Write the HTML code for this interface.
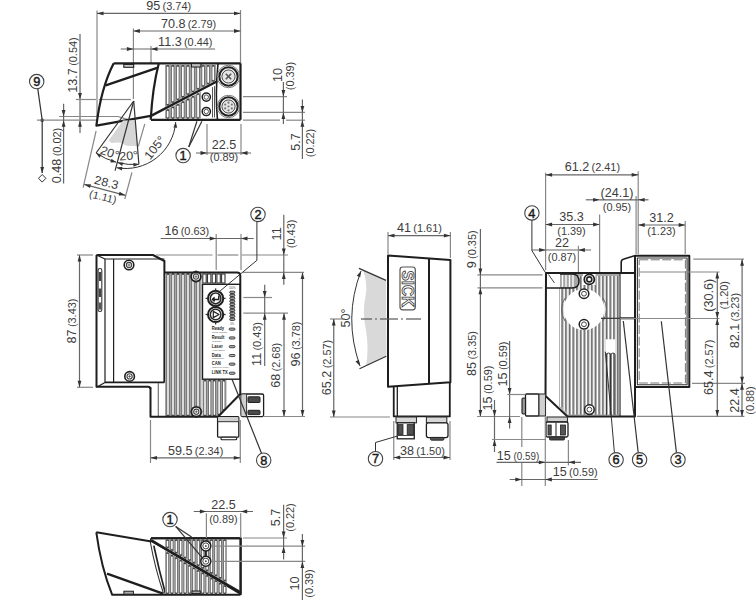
<!DOCTYPE html><html><head><meta charset="utf-8"><style>html,body{margin:0;padding:0;background:#fff;}svg{display:block;}</style></head><body>
<svg width="756" height="600" viewBox="0 0 756 600">
<rect width="756" height="600" fill="#fff"/>
<line x1="97" y1="10.5" x2="97" y2="116" stroke="#888" stroke-width="1.2" />
<line x1="240.5" y1="10" x2="240.5" y2="63" stroke="#888" stroke-width="1.2" />
<line x1="97" y1="13.4" x2="240.5" y2="13.4" stroke="#666" stroke-width="1.2" />
<polygon points="97.00,13.40 103.50,11.50 103.50,15.30" fill="#333"/>
<polygon points="240.50,13.40 234.00,15.30 234.00,11.50" fill="#333"/>
<text transform="translate(146.3 10.3) scale(1.05 1)" text-anchor="start" fill="#3c3c3c" font-family="Liberation Sans"><tspan font-size="12">95</tspan><tspan font-size="10.4" dx="2.2">(3.74)</tspan></text>
<line x1="133.4" y1="28.5" x2="133.4" y2="63" stroke="#888" stroke-width="1.2" />
<line x1="133.4" y1="31" x2="240.5" y2="31" stroke="#666" stroke-width="1.2" />
<polygon points="133.40,31.00 139.90,29.10 139.90,32.90" fill="#333"/>
<polygon points="240.50,31.00 234.00,32.90 234.00,29.10" fill="#333"/>
<text transform="translate(160.9 27.5) scale(1.05 1)" text-anchor="start" fill="#3c3c3c" font-family="Liberation Sans"><tspan font-size="12">70.8</tspan><tspan font-size="10.4" dx="2.2">(2.79)</tspan></text>
<line x1="151" y1="46" x2="151" y2="63" stroke="#888" stroke-width="1.2" />
<line x1="120.7" y1="49" x2="215" y2="49" stroke="#666" stroke-width="1.2" />
<polygon points="133.40,49.00 126.90,50.90 126.90,47.10" fill="#333"/>
<polygon points="151.00,49.00 157.50,47.10 157.50,50.90" fill="#333"/>
<text transform="translate(158.1 45.5) scale(1.05 1)" text-anchor="start" fill="#3c3c3c" font-family="Liberation Sans"><tspan font-size="12">11.3</tspan><tspan font-size="10.4" dx="2.2">(0.44)</tspan></text>
<line x1="133.4" y1="63" x2="133.4" y2="99" stroke="#888" stroke-width="1.2" />
<line x1="80" y1="34" x2="80" y2="133" stroke="#666" stroke-width="1.2" />
<polygon points="80.00,99.50 78.10,93.00 81.90,93.00" fill="#333"/>
<polygon points="80.00,120.20 81.90,126.70 78.10,126.70" fill="#333"/>
<text transform="translate(77 65) rotate(-90) scale(1.05 1)" text-anchor="middle" fill="#3c3c3c" font-family="Liberation Sans"><tspan font-size="12">13.7</tspan><tspan font-size="10.4" dx="2.2">(0.54)</tspan></text>
<line x1="76" y1="99.5" x2="96" y2="99.5" stroke="#888" stroke-width="1.2" />
<line x1="99" y1="99.5" x2="131" y2="99.5" stroke="#888" stroke-width="1.2" />
<circle cx="36.7" cy="81.6" r="7.2" stroke="#444" stroke-width="1.1" fill="white" />
<text transform="translate(36.7 86.19999999999999) scale(1 1)" font-size="12.8" text-anchor="middle" fill="#1a1a1a" font-weight="normal" font-family="Liberation Sans" stroke="#1a1a1a" stroke-width="0.45">9</text>
<line x1="37.8" y1="88.8" x2="42.2" y2="120.2" stroke="#333" stroke-width="1.2" />
<circle cx="42.2" cy="120.2" r="1.8" stroke="#666" stroke-width="0" fill="#222" />
<line x1="37" y1="120.2" x2="97" y2="120.2" stroke="#888" stroke-width="1.2" />
<line x1="59" y1="116.5" x2="118" y2="116.5" stroke="#888" stroke-width="1.2" />
<line x1="118" y1="116.5" x2="128" y2="119.6" stroke="#888" stroke-width="1.2" />
<line x1="42.2" y1="120.2" x2="42.2" y2="173" stroke="#333" stroke-width="1.2" />
<polygon points="42.20,173.50 40.30,167.00 44.10,167.00" fill="#333"/>
<path d="M42.2,174.5 L45.9,178.3 L42.2,182.1 L38.5,178.3 Z" stroke="#333" stroke-width="1" fill="white" stroke-linejoin="round" />
<line x1="63.6" y1="103.7" x2="63.6" y2="183.4" stroke="#666" stroke-width="1.2" />
<polygon points="63.60,116.50 61.70,110.00 65.50,110.00" fill="#333"/>
<polygon points="63.60,120.20 65.50,126.70 61.70,126.70" fill="#333"/>
<text transform="translate(60.7 155.5) rotate(-90) scale(1.05 1)" text-anchor="middle" fill="#3c3c3c" font-family="Liberation Sans"><tspan font-size="12">0.48</tspan><tspan font-size="10.4" dx="2.2">(0.02)</tspan></text>
<path d="M113.7,63.3 Q101,88 96.4,125.7 L150.7,115.8" stroke="#1e1e1e" stroke-width="2.2" fill="none" stroke-linejoin="round" />
<line x1="105.75" y1="85.4" x2="157.1" y2="67.9" stroke="#1e1e1e" stroke-width="2.2" />
<line x1="113.7" y1="63.3" x2="240.5" y2="63.3" stroke="#1e1e1e" stroke-width="2.2" />
<line x1="151" y1="119.8" x2="240.5" y2="119.8" stroke="#1e1e1e" stroke-width="2.2" />
<line x1="240.5" y1="63.3" x2="240.5" y2="119.8" stroke="#1e1e1e" stroke-width="2.2" />
<path d="M158.8,63.3 Q152.5,88 150.7,119.8" stroke="#1e1e1e" stroke-width="2.2" fill="none" stroke-linejoin="round" />
<path d="M218,63.3 Q215,95 217.5,119.8" stroke="#1e1e1e" stroke-width="1.6" fill="none" stroke-linejoin="round" />
<rect x="123.8" y="64.4" width="9.9" height="2.9" rx="0" stroke="#1e1e1e" stroke-width="1.1" fill="#ccc" />
<rect x="191.5" y="63.6" width="9.4" height="3.4" rx="0" stroke="#1e1e1e" stroke-width="1" fill="#bbb" />
<polygon points="165,65 216,65 216,80.32900302114803 165,107.06163141993957" stroke="none" stroke-width="0" fill="#a2a2a2" stroke-linejoin="round" />
<line x1="167.70" y1="66.50" x2="167.70" y2="104.15" stroke="#444" stroke-width="2.9" stroke-linecap="round"/>
<line x1="167.70" y1="67.50" x2="167.70" y2="103.15" stroke="#fff" stroke-width="1.8" stroke-linecap="round"/>
<line x1="172.76" y1="66.50" x2="172.76" y2="101.49" stroke="#444" stroke-width="2.9" stroke-linecap="round"/>
<line x1="172.76" y1="67.50" x2="172.76" y2="100.49" stroke="#fff" stroke-width="1.8" stroke-linecap="round"/>
<line x1="177.82" y1="66.50" x2="177.82" y2="98.84" stroke="#444" stroke-width="2.9" stroke-linecap="round"/>
<line x1="177.82" y1="67.50" x2="177.82" y2="97.84" stroke="#fff" stroke-width="1.8" stroke-linecap="round"/>
<line x1="182.88" y1="66.50" x2="182.88" y2="96.19" stroke="#444" stroke-width="2.9" stroke-linecap="round"/>
<line x1="182.88" y1="67.50" x2="182.88" y2="95.19" stroke="#fff" stroke-width="1.8" stroke-linecap="round"/>
<line x1="187.94" y1="66.50" x2="187.94" y2="93.54" stroke="#444" stroke-width="2.9" stroke-linecap="round"/>
<line x1="187.94" y1="67.50" x2="187.94" y2="92.54" stroke="#fff" stroke-width="1.8" stroke-linecap="round"/>
<line x1="193.00" y1="66.50" x2="193.00" y2="90.88" stroke="#444" stroke-width="2.9" stroke-linecap="round"/>
<line x1="193.00" y1="67.50" x2="193.00" y2="89.88" stroke="#fff" stroke-width="1.8" stroke-linecap="round"/>
<line x1="198.06" y1="66.50" x2="198.06" y2="88.23" stroke="#444" stroke-width="2.9" stroke-linecap="round"/>
<line x1="198.06" y1="67.50" x2="198.06" y2="87.23" stroke="#fff" stroke-width="1.8" stroke-linecap="round"/>
<line x1="203.12" y1="66.50" x2="203.12" y2="85.58" stroke="#444" stroke-width="2.9" stroke-linecap="round"/>
<line x1="203.12" y1="67.50" x2="203.12" y2="84.58" stroke="#fff" stroke-width="1.8" stroke-linecap="round"/>
<line x1="208.18" y1="66.50" x2="208.18" y2="82.93" stroke="#444" stroke-width="2.9" stroke-linecap="round"/>
<line x1="208.18" y1="67.50" x2="208.18" y2="81.93" stroke="#fff" stroke-width="1.8" stroke-linecap="round"/>
<line x1="213.24" y1="66.50" x2="213.24" y2="80.28" stroke="#444" stroke-width="2.9" stroke-linecap="round"/>
<line x1="213.24" y1="67.50" x2="213.24" y2="79.28" stroke="#fff" stroke-width="1.8" stroke-linecap="round"/>
<polygon points="165,110.56163141993957 201,91.69154078549849 201,118.5 165,118.5" stroke="none" stroke-width="0" fill="#a2a2a2" stroke-linejoin="round" />
<line x1="167.70" y1="110.65" x2="167.70" y2="117.50" stroke="#444" stroke-width="2.9" stroke-linecap="round"/>
<line x1="167.70" y1="111.65" x2="167.70" y2="116.50" stroke="#fff" stroke-width="1.8" stroke-linecap="round"/>
<line x1="172.76" y1="107.99" x2="172.76" y2="117.50" stroke="#444" stroke-width="2.9" stroke-linecap="round"/>
<line x1="172.76" y1="108.99" x2="172.76" y2="116.50" stroke="#fff" stroke-width="1.8" stroke-linecap="round"/>
<line x1="177.82" y1="105.34" x2="177.82" y2="117.50" stroke="#444" stroke-width="2.9" stroke-linecap="round"/>
<line x1="177.82" y1="106.34" x2="177.82" y2="116.50" stroke="#fff" stroke-width="1.8" stroke-linecap="round"/>
<line x1="182.88" y1="102.69" x2="182.88" y2="117.50" stroke="#444" stroke-width="2.9" stroke-linecap="round"/>
<line x1="182.88" y1="103.69" x2="182.88" y2="116.50" stroke="#fff" stroke-width="1.8" stroke-linecap="round"/>
<line x1="187.94" y1="100.04" x2="187.94" y2="117.50" stroke="#444" stroke-width="2.9" stroke-linecap="round"/>
<line x1="187.94" y1="101.04" x2="187.94" y2="116.50" stroke="#fff" stroke-width="1.8" stroke-linecap="round"/>
<line x1="193.00" y1="97.38" x2="193.00" y2="117.50" stroke="#444" stroke-width="2.9" stroke-linecap="round"/>
<line x1="193.00" y1="98.38" x2="193.00" y2="116.50" stroke="#fff" stroke-width="1.8" stroke-linecap="round"/>
<line x1="198.06" y1="94.73" x2="198.06" y2="117.50" stroke="#444" stroke-width="2.9" stroke-linecap="round"/>
<line x1="198.06" y1="95.73" x2="198.06" y2="116.50" stroke="#fff" stroke-width="1.8" stroke-linecap="round"/>
<line x1="212.5" y1="87.16359516616313" x2="212.5" y2="117.5" stroke="#555" stroke-width="1" />
<line x1="214.5" y1="86.11525679758307" x2="214.5" y2="117.5" stroke="#555" stroke-width="1" />
<rect x="191.5" y="63.6" width="9.4" height="3.4" rx="0" stroke="#1e1e1e" stroke-width="1" fill="#bbb" />
<line x1="151" y1="115.9" x2="217.2" y2="81.2" stroke="#1e1e1e" stroke-width="2.4" />
<circle cx="206.3" cy="97.1" r="5.2" stroke="#666" stroke-width="0" fill="white" />
<circle cx="206.3" cy="97.1" r="4.1" stroke="#1e1e1e" stroke-width="1.5" fill="white" />
<circle cx="206.3" cy="97.1" r="2.2" stroke="#444" stroke-width="0.9" fill="none" />
<circle cx="206.3" cy="111.5" r="5.2" stroke="#666" stroke-width="0" fill="white" />
<circle cx="206.3" cy="111.5" r="4.1" stroke="#1e1e1e" stroke-width="1.5" fill="white" />
<circle cx="206.3" cy="111.5" r="2.2" stroke="#444" stroke-width="0.9" fill="none" />
<circle cx="228.5" cy="76.5" r="11.2" stroke="#555" stroke-width="0.8" fill="white" />
<circle cx="228.5" cy="76.5" r="9.2" stroke="#222" stroke-width="2.1" fill="none" />
<circle cx="228.5" cy="76.5" r="6.6" stroke="#444" stroke-width="1" fill="#e6e6e6" />
<circle cx="228.5" cy="106.5" r="11.2" stroke="#555" stroke-width="0.8" fill="white" />
<circle cx="228.5" cy="106.5" r="9.2" stroke="#222" stroke-width="2.1" fill="none" />
<circle cx="228.5" cy="106.5" r="6.6" stroke="#444" stroke-width="1" fill="#e6e6e6" />
<line x1="225.8" y1="73.8" x2="231.2" y2="79.2" stroke="#555" stroke-width="1.6" />
<line x1="231.2" y1="73.8" x2="225.8" y2="79.2" stroke="#555" stroke-width="1.6" />
<circle cx="228.5" cy="102.7" r="1.1" stroke="#666" stroke-width="0" fill="#777" />
<circle cx="231.8" cy="104.6" r="1.1" stroke="#666" stroke-width="0" fill="#777" />
<circle cx="231.8" cy="108.4" r="1.1" stroke="#666" stroke-width="0" fill="#777" />
<circle cx="228.5" cy="110.3" r="1.1" stroke="#666" stroke-width="0" fill="#777" />
<circle cx="225.2" cy="108.4" r="1.1" stroke="#666" stroke-width="0" fill="#777" />
<circle cx="225.2" cy="104.6" r="1.1" stroke="#666" stroke-width="0" fill="#777" />
<circle cx="228.5" cy="106.5" r="1.1" stroke="#666" stroke-width="0" fill="#777" />
<path d="M123,120.5 L109,140 Q110,143.5 114,142.8 Q119,142 122.5,143.5 Q127,147 132,145.8 L137.6,146.3 L135.4,120.2 Z" fill="#d6d6d6" stroke="none"/>
<line x1="133.7" y1="101" x2="96.1" y2="153" stroke="#333" stroke-width="1.2" />
<line x1="133.7" y1="101" x2="115.1" y2="170.6" stroke="#333" stroke-width="1.2" />
<line x1="133.7" y1="101" x2="138.9" y2="164.2" stroke="#333" stroke-width="1.2" />
<line x1="144.8" y1="123.9" x2="138.2" y2="146.5" stroke="#888" stroke-width="1.2" />
<path d="M96.1,153 A64 64 0 0 0 116.2,162.2" stroke="#333" stroke-width="1" fill="none" stroke-linejoin="round" />
<polygon points="96.10,153.00 101.67,154.70 99.43,157.77" fill="#333"/>
<polygon points="116.20,162.20 110.38,162.41 111.50,158.77" fill="#333"/>
<path d="M117.5,162.6 A64 64 0 0 0 138.9,164.3" stroke="#333" stroke-width="1" fill="none" stroke-linejoin="round" />
<polygon points="117.50,162.60 123.32,162.39 122.20,166.03" fill="#333"/>
<polygon points="138.90,164.30 133.59,166.67 133.26,162.89" fill="#333"/>
<text transform="translate(99.5 153.5) rotate(19) scale(1.05 1)" font-size="12" text-anchor="start" fill="#3c3c3c" font-weight="normal" font-family="Liberation Sans" >20°</text>
<text transform="translate(119.4 160.6) rotate(-4) scale(1.05 1)" font-size="12" text-anchor="start" fill="#3c3c3c" font-weight="normal" font-family="Liberation Sans" >20°</text>
<path d="M116.7,167.7 A50.2 50.2 0 0 0 175.7,122.1" stroke="#333" stroke-width="1" fill="none" stroke-linejoin="round" />
<polygon points="116.70,167.70 122.45,166.78 121.79,170.53" fill="#333"/>
<polygon points="175.70,122.10 177.21,127.72 173.42,127.45" fill="#333"/>
<text transform="translate(150 160.5) rotate(-52) scale(1.05 1)" font-size="12" text-anchor="start" fill="#3c3c3c" font-weight="normal" font-family="Liberation Sans" >105°</text>
<line x1="96.1" y1="131" x2="83.1" y2="187.7" stroke="#888" stroke-width="1.2" />
<line x1="131.9" y1="172.5" x2="124.8" y2="199" stroke="#888" stroke-width="1.2" />
<line x1="84.2" y1="184.4" x2="125.4" y2="195.3" stroke="#666" stroke-width="1.2" />
<polygon points="84.20,184.40 90.97,184.22 90.00,187.90" fill="#333"/>
<polygon points="125.40,195.30 118.63,195.48 119.60,191.80" fill="#333"/>
<text transform="translate(93.6 183.5) rotate(14) scale(1.05 1)" font-size="12" text-anchor="start" fill="#3c3c3c" font-weight="normal" font-family="Liberation Sans" >28.3</text>
<text transform="translate(88.5 197) rotate(14) scale(1.05 1)" font-size="10.5" text-anchor="start" fill="#3c3c3c" font-weight="normal" font-family="Liberation Sans" >(1.11)</text>
<circle cx="183.1" cy="155.6" r="7.2" stroke="#444" stroke-width="1.1" fill="white" />
<text transform="translate(183.1 160.2) scale(1 1)" font-size="12.8" text-anchor="middle" fill="#1a1a1a" font-weight="normal" font-family="Liberation Sans" stroke="#1a1a1a" stroke-width="0.45">1</text>
<line x1="188.75" y1="146.9" x2="196.9" y2="121.2" stroke="#333" stroke-width="1.2" />
<line x1="188.75" y1="146.9" x2="201.9" y2="121.2" stroke="#333" stroke-width="1.2" />
<line x1="243" y1="96.6" x2="287" y2="96.6" stroke="#888" stroke-width="1.2" />
<line x1="243" y1="112.4" x2="305" y2="112.4" stroke="#888" stroke-width="1.2" />
<line x1="243" y1="120.2" x2="280" y2="120.2" stroke="#888" stroke-width="1.2" />
<line x1="286" y1="120.2" x2="305" y2="120.2" stroke="#888" stroke-width="1.2" />
<line x1="283.4" y1="82" x2="283.4" y2="124" stroke="#666" stroke-width="1.2" />
<polygon points="283.40,96.60 281.50,90.10 285.30,90.10" fill="#333"/>
<polygon points="283.40,112.40 285.30,118.90 281.50,118.90" fill="#333"/>
<text transform="translate(281.5 75) rotate(-90) scale(1.05 1)" text-anchor="middle" fill="#3c3c3c" font-family="Liberation Sans"><tspan font-size="12">10</tspan></text>
<text transform="translate(293.8 76) rotate(-90) scale(1.05 1)" text-anchor="middle" fill="#3c3c3c" font-family="Liberation Sans"><tspan font-size="10.4">(0.39)</tspan></text>
<line x1="302.4" y1="99.6" x2="302.4" y2="159" stroke="#666" stroke-width="1.2" />
<polygon points="302.40,112.40 300.50,105.90 304.30,105.90" fill="#333"/>
<polygon points="302.40,120.20 304.30,126.70 300.50,126.70" fill="#333"/>
<text transform="translate(300.2 142) rotate(-90) scale(1.05 1)" text-anchor="middle" fill="#3c3c3c" font-family="Liberation Sans"><tspan font-size="12">5.7</tspan></text>
<text transform="translate(313.8 143) rotate(-90) scale(1.05 1)" text-anchor="middle" fill="#3c3c3c" font-family="Liberation Sans"><tspan font-size="10.4">(0.22)</tspan></text>
<line x1="207" y1="124" x2="207" y2="155" stroke="#888" stroke-width="1.2" />
<line x1="241" y1="124" x2="241" y2="155" stroke="#888" stroke-width="1.2" />
<line x1="196" y1="153" x2="251" y2="153" stroke="#666" stroke-width="1.2" />
<polygon points="207.00,153.00 200.50,154.90 200.50,151.10" fill="#333"/>
<polygon points="241.00,153.00 247.50,151.10 247.50,154.90" fill="#333"/>
<text transform="translate(224 149.4) scale(1.05 1)" text-anchor="middle" fill="#3c3c3c" font-family="Liberation Sans"><tspan font-size="12">22.5</tspan></text>
<text transform="translate(224 161) scale(1.05 1)" text-anchor="middle" fill="#3c3c3c" font-family="Liberation Sans"><tspan font-size="10.4">(0.89)</tspan></text>
<path d="M96.5,255 L153,255 L164.4,261 L164.4,382.4" stroke="#1e1e1e" stroke-width="2" fill="none" stroke-linejoin="round" />
<path d="M96.5,255 L96.5,386.8 L148,386.8 Q150.3,386.8 150.3,389" stroke="#1e1e1e" stroke-width="2" fill="none" stroke-linejoin="round" />
<line x1="96.5" y1="255" x2="105" y2="259" stroke="#1e1e1e" stroke-width="1.2" />
<line x1="96.5" y1="387.3" x2="105" y2="382.4" stroke="#1e1e1e" stroke-width="1.2" />
<line x1="105" y1="259" x2="164.4" y2="259" stroke="#1e1e1e" stroke-width="1.2" />
<line x1="105" y1="259" x2="105" y2="382.4" stroke="#1e1e1e" stroke-width="1.2" />
<line x1="113.6" y1="259" x2="113.6" y2="382.4" stroke="#1e1e1e" stroke-width="1.2" />
<line x1="105" y1="382.4" x2="164.4" y2="382.4" stroke="#1e1e1e" stroke-width="1.8" />
<line x1="158.3" y1="383" x2="158.3" y2="416.5" stroke="#666" stroke-width="1.1" />
<rect x="98.1" y="268.5" width="3.7" height="43" rx="1.8" stroke="#333" stroke-width="1.1" fill="#fff" />
<rect x="98.8" y="272" width="2.3" height="9" rx="0" stroke="#666" stroke-width="0" fill="#444" />
<rect x="98.8" y="288.5" width="2.3" height="8.5" rx="0" stroke="#666" stroke-width="0" fill="#444" />
<rect x="98.8" y="302.5" width="2.3" height="7" rx="0" stroke="#666" stroke-width="0" fill="#555" />
<circle cx="129" cy="265" r="4.8" stroke="#1e1e1e" stroke-width="1.6" fill="white" />
<circle cx="129" cy="265" r="2.6" stroke="#444" stroke-width="1.1" fill="none" />
<line x1="127.5" y1="265" x2="130.5" y2="265" stroke="#444" stroke-width="0.7" />
<line x1="129" y1="263.5" x2="129" y2="266.5" stroke="#444" stroke-width="0.7" />
<circle cx="129.6" cy="376.4" r="4.8" stroke="#1e1e1e" stroke-width="1.6" fill="white" />
<circle cx="129.6" cy="376.4" r="2.6" stroke="#444" stroke-width="1.1" fill="none" />
<line x1="128.1" y1="376.4" x2="131.1" y2="376.4" stroke="#444" stroke-width="0.7" />
<line x1="129.6" y1="374.9" x2="129.6" y2="377.9" stroke="#444" stroke-width="0.7" />
<polygon points="165,273.5 201.5,273.5 201.5,416 165,416" stroke="none" stroke-width="0" fill="#a4a4a4" stroke-linejoin="round" />
<line x1="168.00" y1="274.50" x2="168.00" y2="415.30" stroke="#4a4a4a" stroke-width="2.9" stroke-linecap="round"/>
<line x1="168.00" y1="275.50" x2="168.00" y2="414.30" stroke="#fff" stroke-width="1.6" stroke-linecap="round"/>
<line x1="173.00" y1="274.50" x2="173.00" y2="415.30" stroke="#4a4a4a" stroke-width="2.9" stroke-linecap="round"/>
<line x1="173.00" y1="275.50" x2="173.00" y2="414.30" stroke="#fff" stroke-width="1.6" stroke-linecap="round"/>
<line x1="178.00" y1="274.50" x2="178.00" y2="415.30" stroke="#4a4a4a" stroke-width="2.9" stroke-linecap="round"/>
<line x1="178.00" y1="275.50" x2="178.00" y2="414.30" stroke="#fff" stroke-width="1.6" stroke-linecap="round"/>
<line x1="183.00" y1="274.50" x2="183.00" y2="415.30" stroke="#4a4a4a" stroke-width="2.9" stroke-linecap="round"/>
<line x1="183.00" y1="275.50" x2="183.00" y2="414.30" stroke="#fff" stroke-width="1.6" stroke-linecap="round"/>
<line x1="188.00" y1="274.50" x2="188.00" y2="415.30" stroke="#4a4a4a" stroke-width="2.9" stroke-linecap="round"/>
<line x1="188.00" y1="275.50" x2="188.00" y2="414.30" stroke="#fff" stroke-width="1.6" stroke-linecap="round"/>
<line x1="193.00" y1="274.50" x2="193.00" y2="415.30" stroke="#4a4a4a" stroke-width="2.9" stroke-linecap="round"/>
<line x1="193.00" y1="275.50" x2="193.00" y2="414.30" stroke="#fff" stroke-width="1.6" stroke-linecap="round"/>
<line x1="198.00" y1="274.50" x2="198.00" y2="415.30" stroke="#4a4a4a" stroke-width="2.9" stroke-linecap="round"/>
<line x1="198.00" y1="275.50" x2="198.00" y2="414.30" stroke="#fff" stroke-width="1.6" stroke-linecap="round"/>
<polygon points="202.5,380 226.5,380 226.5,408 218.5,416 202.5,416" stroke="none" stroke-width="0" fill="#a4a4a4" stroke-linejoin="round" />
<line x1="205.00" y1="381.00" x2="205.00" y2="415.30" stroke="#4a4a4a" stroke-width="2.9" stroke-linecap="round"/>
<line x1="205.00" y1="382.00" x2="205.00" y2="414.30" stroke="#fff" stroke-width="1.6" stroke-linecap="round"/>
<line x1="209.70" y1="381.00" x2="209.70" y2="415.30" stroke="#4a4a4a" stroke-width="2.9" stroke-linecap="round"/>
<line x1="209.70" y1="382.00" x2="209.70" y2="414.30" stroke="#fff" stroke-width="1.6" stroke-linecap="round"/>
<line x1="214.40" y1="381.00" x2="214.40" y2="415.30" stroke="#4a4a4a" stroke-width="2.9" stroke-linecap="round"/>
<line x1="214.40" y1="382.00" x2="214.40" y2="414.30" stroke="#fff" stroke-width="1.6" stroke-linecap="round"/>
<line x1="219.10" y1="381.00" x2="219.10" y2="414.20" stroke="#4a4a4a" stroke-width="2.9" stroke-linecap="round"/>
<line x1="219.10" y1="382.00" x2="219.10" y2="413.20" stroke="#fff" stroke-width="1.6" stroke-linecap="round"/>
<line x1="223.80" y1="381.00" x2="223.80" y2="409.50" stroke="#4a4a4a" stroke-width="2.9" stroke-linecap="round"/>
<line x1="223.80" y1="382.00" x2="223.80" y2="408.50" stroke="#fff" stroke-width="1.6" stroke-linecap="round"/>
<rect x="202.8" y="274" width="3.4" height="9" rx="0" stroke="#333" stroke-width="1.1" fill="white" />
<rect x="207.5" y="274" width="3.4" height="9" rx="0" stroke="#333" stroke-width="1.1" fill="white" />
<rect x="212.20000000000002" y="274" width="3.4" height="9" rx="0" stroke="#333" stroke-width="1.1" fill="white" />
<rect x="216.9" y="274" width="3.4" height="9" rx="0" stroke="#333" stroke-width="1.1" fill="white" />
<rect x="221.60000000000002" y="274" width="3.4" height="9" rx="0" stroke="#333" stroke-width="1.1" fill="white" />
<rect x="202.5" y="284.3" width="37.8" height="94.9" rx="0" stroke="#1e1e1e" stroke-width="1.4" fill="white" />
<circle cx="196" cy="276.6" r="4.9" stroke="#1e1e1e" stroke-width="1.8" fill="white" />
<circle cx="196" cy="276.6" r="2.6" stroke="#444" stroke-width="1.1" fill="none" />
<line x1="189.7" y1="276.6" x2="191.4" y2="276.6" stroke="#444" stroke-width="1" />
<line x1="200.6" y1="276.6" x2="202.3" y2="276.6" stroke="#444" stroke-width="1" />
<line x1="196" y1="270.3" x2="196" y2="272.0" stroke="#444" stroke-width="1" />
<line x1="196" y1="281.20000000000005" x2="196" y2="282.90000000000003" stroke="#444" stroke-width="1" />
<line x1="194.6" y1="276.6" x2="197.4" y2="276.6" stroke="#444" stroke-width="0.7" />
<line x1="196" y1="275.20000000000005" x2="196" y2="278.0" stroke="#444" stroke-width="0.7" />
<circle cx="196.3" cy="411.7" r="4.9" stroke="#1e1e1e" stroke-width="1.8" fill="white" />
<circle cx="196.3" cy="411.7" r="2.6" stroke="#444" stroke-width="1.1" fill="none" />
<line x1="190.0" y1="411.7" x2="191.70000000000002" y2="411.7" stroke="#444" stroke-width="1" />
<line x1="200.9" y1="411.7" x2="202.60000000000002" y2="411.7" stroke="#444" stroke-width="1" />
<line x1="196.3" y1="405.4" x2="196.3" y2="407.09999999999997" stroke="#444" stroke-width="1" />
<line x1="196.3" y1="416.3" x2="196.3" y2="418.0" stroke="#444" stroke-width="1" />
<line x1="194.9" y1="411.7" x2="197.70000000000002" y2="411.7" stroke="#444" stroke-width="0.7" />
<line x1="196.3" y1="410.3" x2="196.3" y2="413.09999999999997" stroke="#444" stroke-width="0.7" />
<circle cx="215.6" cy="298.4" r="7.6" stroke="#1e1e1e" stroke-width="2.0" fill="white" />
<circle cx="215.6" cy="298.4" r="5.3" stroke="#2a2a2a" stroke-width="1.5" fill="none" />
<line x1="205.6" y1="298.4" x2="207.4" y2="298.4" stroke="#333" stroke-width="1.3" />
<line x1="223.8" y1="298.4" x2="225.6" y2="298.4" stroke="#333" stroke-width="1.3" />
<line x1="215.6" y1="288.4" x2="215.6" y2="290.2" stroke="#333" stroke-width="1.3" />
<line x1="215.6" y1="306.59999999999997" x2="215.6" y2="308.4" stroke="#333" stroke-width="1.3" />
<circle cx="215.6" cy="314.5" r="7.6" stroke="#1e1e1e" stroke-width="2.0" fill="white" />
<circle cx="215.6" cy="314.5" r="5.3" stroke="#2a2a2a" stroke-width="1.5" fill="none" />
<line x1="205.6" y1="314.5" x2="207.4" y2="314.5" stroke="#333" stroke-width="1.3" />
<line x1="223.8" y1="314.5" x2="225.6" y2="314.5" stroke="#333" stroke-width="1.3" />
<line x1="215.6" y1="304.5" x2="215.6" y2="306.3" stroke="#333" stroke-width="1.3" />
<line x1="215.6" y1="322.7" x2="215.6" y2="324.5" stroke="#333" stroke-width="1.3" />
<path d="M218.8,295.6 L218.8,299.4 L212.5,299.4 M214.6,297.4 L212.5,299.4 L214.6,301.4" stroke="#222" stroke-width="1.5" fill="none" stroke-linejoin="round" />
<path d="M213.3,311.4 L219,314.5 L213.3,317.6 Z" stroke="#222" stroke-width="1.2" fill="none" stroke-linejoin="round" />
<rect x="229.8" y="291.2" width="5" height="2.2" rx="1" stroke="#222" stroke-width="0.9" fill="#aaa" />
<rect x="229.8" y="294.2" width="5" height="2.2" rx="1" stroke="#222" stroke-width="0.9" fill="#aaa" />
<rect x="229.8" y="297.2" width="5" height="2.2" rx="1" stroke="#222" stroke-width="0.9" fill="#aaa" />
<rect x="229.8" y="300.2" width="5" height="2.2" rx="1" stroke="#222" stroke-width="0.9" fill="#aaa" />
<rect x="229.8" y="303.2" width="5" height="2.2" rx="1" stroke="#222" stroke-width="0.9" fill="#aaa" />
<rect x="229.8" y="306.2" width="5" height="2.2" rx="1" stroke="#222" stroke-width="0.9" fill="#aaa" />
<rect x="229.8" y="309.2" width="5" height="2.2" rx="1" stroke="#222" stroke-width="0.9" fill="#aaa" />
<rect x="229.8" y="312.2" width="5" height="2.2" rx="1" stroke="#222" stroke-width="0.9" fill="#aaa" />
<rect x="229.8" y="315.2" width="5" height="2.2" rx="1" stroke="#222" stroke-width="0.9" fill="#aaa" />
<rect x="229.8" y="318.2" width="5" height="2.2" rx="1" stroke="#222" stroke-width="0.9" fill="#aaa" />
<text transform="translate(232.2 289.3) scale(1 1)" font-size="2.6" text-anchor="middle" fill="#444" font-weight="normal" font-family="Liberation Sans" >100%</text>
<text transform="translate(232.2 324.5) scale(1 1)" font-size="2.6" text-anchor="middle" fill="#444" font-weight="normal" font-family="Liberation Sans" >0%</text>
<text transform="translate(211.8 330.2) scale(0.84 1)" font-size="4.9" text-anchor="start" fill="#1a1a1a" font-weight="bold" font-family="Liberation Sans" >Ready</text>
<text transform="translate(212 333.0) scale(1.1 1)" font-size="2.4" text-anchor="start" fill="#555" font-weight="normal" font-family="Liberation Sans" >Read Trigger</text>
<rect x="229.2" y="328.09999999999997" width="5.8" height="2.1" rx="1" stroke="#333" stroke-width="0.9" fill="#bbb" />
<text transform="translate(211.8 339) scale(0.84 1)" font-size="4.9" text-anchor="start" fill="#1a1a1a" font-weight="bold" font-family="Liberation Sans" >Result</text>
<text transform="translate(212 341.8) scale(1.1 1)" font-size="2.4" text-anchor="start" fill="#555" font-weight="normal" font-family="Liberation Sans" >Transfer</text>
<rect x="229.2" y="336.9" width="5.8" height="2.1" rx="1" stroke="#333" stroke-width="0.9" fill="#bbb" />
<text transform="translate(211.8 347.7) scale(0.84 1)" font-size="4.9" text-anchor="start" fill="#1a1a1a" font-weight="bold" font-family="Liberation Sans" >Laser</text>
<text transform="translate(212 350.5) scale(1.1 1)" font-size="2.4" text-anchor="start" fill="#555" font-weight="normal" font-family="Liberation Sans" >Auto Setup</text>
<rect x="229.2" y="345.59999999999997" width="5.8" height="2.1" rx="1" stroke="#333" stroke-width="0.9" fill="#bbb" />
<text transform="translate(211.8 356.6) scale(0.84 1)" font-size="4.9" text-anchor="start" fill="#1a1a1a" font-weight="bold" font-family="Liberation Sans" >Data</text>
<text transform="translate(212 359.40000000000003) scale(1.1 1)" font-size="2.4" text-anchor="start" fill="#555" font-weight="normal" font-family="Liberation Sans" >Reporting</text>
<rect x="229.2" y="354.5" width="5.8" height="2.1" rx="1" stroke="#333" stroke-width="0.9" fill="#bbb" />
<text transform="translate(211.8 365.2) scale(0.84 1)" font-size="4.9" text-anchor="start" fill="#1a1a1a" font-weight="bold" font-family="Liberation Sans" >CAN</text>
<text transform="translate(212 368.0) scale(1.1 1)" font-size="2.4" text-anchor="start" fill="#555" font-weight="normal" font-family="Liberation Sans" >Can/UW Fault</text>
<rect x="229.2" y="363.09999999999997" width="5.8" height="2.1" rx="1" stroke="#333" stroke-width="0.9" fill="#bbb" />
<text transform="translate(211.8 374.3) scale(0.84 1)" font-size="4.9" text-anchor="start" fill="#1a1a1a" font-weight="bold" font-family="Liberation Sans" >LINK TX</text>
<rect x="229.2" y="372.2" width="5.8" height="2.1" rx="1" stroke="#333" stroke-width="0.9" fill="#bbb" />
<path d="M164.4,272.4 L237,272.4 Q240.3,272.4 240.3,275.7 L240.3,394 L218,416.7 L150.5,416.7 L150.5,387.3" stroke="#1e1e1e" stroke-width="2" fill="none" stroke-linejoin="round" />
<rect x="241" y="394" width="22.6" height="22.6" rx="1.5" stroke="#1e1e1e" stroke-width="1.3" fill="white" />
<rect x="241.5" y="394.5" width="5" height="21.6" rx="0" stroke="#666" stroke-width="0" fill="#cfcfcf" />
<rect x="248" y="396.8" width="12" height="5.7" rx="0.8" stroke="#222" stroke-width="1" fill="#4a4a4a" />
<rect x="248" y="410.3" width="12" height="4.3" rx="0.8" stroke="#222" stroke-width="1" fill="#4a4a4a" />
<line x1="246.6" y1="394" x2="246.6" y2="416.6" stroke="#333" stroke-width="1" />
<rect x="217.6" y="416.7" width="21.2" height="20.5" rx="1" stroke="#1e1e1e" stroke-width="1.3" fill="white" />
<rect x="218.1" y="417.2" width="20.2" height="4.5" rx="0" stroke="#666" stroke-width="0" fill="#cfcfcf" />
<line x1="217.6" y1="421.7" x2="238.8" y2="421.7" stroke="#333" stroke-width="1" />
<rect x="221" y="437.2" width="15.7" height="2.6" rx="1" stroke="#1e1e1e" stroke-width="1.1" fill="white" />
<line x1="77" y1="255" x2="93" y2="255" stroke="#888" stroke-width="1.2" />
<line x1="77" y1="387.3" x2="93" y2="387.3" stroke="#888" stroke-width="1.2" />
<line x1="79.5" y1="255" x2="79.5" y2="387.3" stroke="#666" stroke-width="1.2" />
<polygon points="79.50,255.00 81.40,261.50 77.60,261.50" fill="#333"/>
<polygon points="79.50,387.30 77.60,380.80 81.40,380.80" fill="#333"/>
<text transform="translate(75.8 321) rotate(-90) scale(1.05 1)" text-anchor="middle" fill="#3c3c3c" font-family="Liberation Sans"><tspan font-size="12">87</tspan><tspan font-size="10.4" dx="2.2">(3.43)</tspan></text>
<line x1="216.2" y1="234" x2="216.2" y2="270" stroke="#888" stroke-width="1.2" />
<line x1="241" y1="234" x2="241" y2="270" stroke="#888" stroke-width="1.2" />
<line x1="160.6" y1="238.5" x2="253.7" y2="238.5" stroke="#666" stroke-width="1.2" />
<polygon points="216.20,238.50 209.70,240.40 209.70,236.60" fill="#333"/>
<polygon points="241.00,238.50 247.50,236.60 247.50,240.40" fill="#333"/>
<text transform="translate(164.4 234.5) scale(1.05 1)" text-anchor="start" fill="#3c3c3c" font-family="Liberation Sans"><tspan font-size="12">16</tspan><tspan font-size="10.4" dx="2.2">(0.63)</tspan></text>
<line x1="156" y1="255" x2="212.5" y2="255" stroke="#888" stroke-width="1.2" />
<line x1="217.5" y1="255" x2="238.3" y2="255" stroke="#888" stroke-width="1.2" />
<line x1="241.7" y1="255" x2="288" y2="255" stroke="#888" stroke-width="1.2" />
<line x1="243" y1="272.4" x2="304" y2="272.4" stroke="#888" stroke-width="1.2" />
<line x1="283.8" y1="214.8" x2="283.8" y2="284.7" stroke="#666" stroke-width="1.2" />
<polygon points="283.80,255.00 281.90,248.50 285.70,248.50" fill="#333"/>
<polygon points="283.80,272.40 285.70,278.90 281.90,278.90" fill="#333"/>
<text transform="translate(281.3 233.9) rotate(-90) scale(1.05 1)" text-anchor="middle" fill="#3c3c3c" font-family="Liberation Sans"><tspan font-size="12">11</tspan></text>
<text transform="translate(295 233.9) rotate(-90) scale(1.05 1)" text-anchor="middle" fill="#3c3c3c" font-family="Liberation Sans"><tspan font-size="10.4">(0.43)</tspan></text>
<line x1="243.3" y1="297.5" x2="272" y2="297.5" stroke="#888" stroke-width="1.2" />
<line x1="243.3" y1="313.2" x2="288" y2="313.2" stroke="#888" stroke-width="1.2" />
<line x1="264.7" y1="284.7" x2="264.7" y2="366" stroke="#666" stroke-width="1.2" />
<polygon points="264.70,297.50 262.80,291.00 266.60,291.00" fill="#333"/>
<polygon points="264.70,313.20 266.60,319.70 262.80,319.70" fill="#333"/>
<text transform="translate(260.9 344) rotate(-90) scale(1.05 1)" text-anchor="middle" fill="#3c3c3c" font-family="Liberation Sans"><tspan font-size="12">11</tspan><tspan font-size="10.4" dx="2.2">(0.43)</tspan></text>
<line x1="284" y1="313.2" x2="284" y2="416.5" stroke="#666" stroke-width="1.2" />
<polygon points="284.00,313.20 285.90,319.70 282.10,319.70" fill="#333"/>
<polygon points="284.00,416.50 282.10,410.00 285.90,410.00" fill="#333"/>
<text transform="translate(279.5 365.3) rotate(-90) scale(1.05 1)" text-anchor="middle" fill="#3c3c3c" font-family="Liberation Sans"><tspan font-size="12">68</tspan><tspan font-size="10.4" dx="2.2">(2.68)</tspan></text>
<line x1="302.5" y1="272.4" x2="302.5" y2="416.5" stroke="#666" stroke-width="1.2" />
<polygon points="302.50,272.40 304.40,278.90 300.60,278.90" fill="#333"/>
<polygon points="302.50,416.50 300.60,410.00 304.40,410.00" fill="#333"/>
<text transform="translate(299.5 344) rotate(-90) scale(1.05 1)" text-anchor="middle" fill="#3c3c3c" font-family="Liberation Sans"><tspan font-size="12">96</tspan><tspan font-size="10.4" dx="2.2">(3.78)</tspan></text>
<line x1="264" y1="416.5" x2="305" y2="416.5" stroke="#888" stroke-width="1.2" />
<line x1="150.5" y1="420" x2="150.5" y2="463" stroke="#888" stroke-width="1.2" />
<line x1="240.3" y1="420" x2="240.3" y2="463" stroke="#888" stroke-width="1.2" />
<line x1="150.5" y1="457.8" x2="240.3" y2="457.8" stroke="#666" stroke-width="1.2" />
<polygon points="150.50,457.80 157.00,455.90 157.00,459.70" fill="#333"/>
<polygon points="240.30,457.80 233.80,459.70 233.80,455.90" fill="#333"/>
<text transform="translate(168 454.8) scale(1.05 1)" text-anchor="start" fill="#3c3c3c" font-family="Liberation Sans"><tspan font-size="12">59.5</tspan><tspan font-size="10.4" dx="2.2">(2.34)</tspan></text>
<circle cx="258" cy="214.4" r="7.2" stroke="#444" stroke-width="1.1" fill="white" />
<text transform="translate(258 219.0) scale(1 1)" font-size="12.8" text-anchor="middle" fill="#1a1a1a" font-weight="normal" font-family="Liberation Sans" stroke="#1a1a1a" stroke-width="0.45">2</text>
<path d="M256.9,221.4 L256.9,260.3 L217.7,293" stroke="#333" stroke-width="1" fill="none" stroke-linejoin="round" />
<circle cx="263.7" cy="460.2" r="7.2" stroke="#444" stroke-width="1.1" fill="white" />
<text transform="translate(263.7 464.8) scale(1 1)" font-size="12.8" text-anchor="middle" fill="#1a1a1a" font-weight="normal" font-family="Liberation Sans" stroke="#1a1a1a" stroke-width="0.45">8</text>
<line x1="261.5" y1="453.3" x2="232.2" y2="379.7" stroke="#333" stroke-width="1.2" />
<path d="M363,270.2 L386,280.4 L386.5,356.3 L366,365.8 Q369,350 366,330 Q362,312 365.5,296 Q368,283 363,270.2 Z" fill="#d9d9d9" stroke="none"/>
<line x1="359" y1="268.4" x2="386" y2="280.4" stroke="#333" stroke-width="1.2" />
<line x1="359.5" y1="368.75" x2="386.25" y2="356.25" stroke="#333" stroke-width="1.2" />
<path d="M388,255.6 L450.4,260 L450.4,382.2 L388,386.7 Z" stroke="#1e1e1e" stroke-width="2" fill="none" stroke-linejoin="round" />
<line x1="429" y1="259" x2="429" y2="383.7" stroke="#1e1e1e" stroke-width="2" />
<rect x="400" y="267" width="15.3" height="42.9" rx="2.8" stroke="#555" stroke-width="1.2" fill="white" />
<text transform="translate(402.2 270.5) rotate(90) scale(0.93 1)" font-size="16.5" font-weight="bold" font-family="Liberation Sans" fill="white" stroke="#333" stroke-width="0.8">SICK</text>
<path d="M393.75,386.3 L393.75,416.4 L449.8,416.4 L449.8,382.3" stroke="#1e1e1e" stroke-width="1.8" fill="none" stroke-linejoin="round" />
<line x1="397.3" y1="386" x2="397.3" y2="416.4" stroke="#1e1e1e" stroke-width="1.3" />
<rect x="396" y="417" width="20.5" height="5.8" rx="0" stroke="#333" stroke-width="1.1" fill="#d8d8d8" />
<rect x="397.25" y="422.8" width="17" height="16" rx="0" stroke="#1e1e1e" stroke-width="1.3" fill="white" />
<rect x="398.4" y="424.6" width="4.6" height="9.9" rx="0" stroke="#222" stroke-width="0.8" fill="#505050" />
<rect x="407.2" y="424.6" width="6.4" height="9.9" rx="0" stroke="#222" stroke-width="0.8" fill="#505050" />
<line x1="397.5" y1="435.5" x2="414" y2="435.5" stroke="#444" stroke-width="1" />
<rect x="426.4" y="417" width="20.4" height="5.8" rx="0" stroke="#333" stroke-width="1.1" fill="#d8d8d8" />
<rect x="426.4" y="422.8" width="21.6" height="14.8" rx="2" stroke="#1e1e1e" stroke-width="1.3" fill="white" />
<rect x="430.5" y="437.4" width="13.4" height="2.8" rx="1" stroke="#222" stroke-width="0.9" fill="#555" />
<path d="M361,271 Q343,318 360,366" stroke="#333" stroke-width="1" fill="none" stroke-linejoin="round" />
<polygon points="361.00,271.00 360.19,277.24 356.74,275.63" fill="#333"/>
<polygon points="360.00,366.00 355.51,361.59 358.86,359.81" fill="#333"/>
<line x1="361" y1="319" x2="372" y2="319" stroke="#555" stroke-width="1.2" />
<line x1="375" y1="319" x2="377" y2="319" stroke="#555" stroke-width="1.2" />
<line x1="380" y1="319" x2="398" y2="319" stroke="#555" stroke-width="1.2" />
<line x1="401" y1="319" x2="403" y2="319" stroke="#555" stroke-width="1.2" />
<line x1="406" y1="319" x2="421" y2="319" stroke="#555" stroke-width="1.2" />
<text transform="translate(350 318) rotate(-90) scale(1.05 1)" font-size="12" text-anchor="middle" fill="#3c3c3c" font-weight="normal" font-family="Liberation Sans" >50°</text>
<line x1="330" y1="319" x2="345" y2="319" stroke="#888" stroke-width="1.2" />
<line x1="330" y1="417" x2="390" y2="417" stroke="#888" stroke-width="1.2" />
<line x1="333.75" y1="319" x2="333.75" y2="417" stroke="#666" stroke-width="1.2" />
<polygon points="333.75,319.00 335.65,325.50 331.85,325.50" fill="#333"/>
<polygon points="333.75,417.00 331.85,410.50 335.65,410.50" fill="#333"/>
<text transform="translate(331 367.5) rotate(-90) scale(1.05 1)" text-anchor="middle" fill="#3c3c3c" font-family="Liberation Sans"><tspan font-size="12">65.2</tspan><tspan font-size="10.4" dx="2.2">(2.57)</tspan></text>
<line x1="388" y1="232" x2="388" y2="254" stroke="#888" stroke-width="1.2" />
<line x1="450.4" y1="232" x2="450.4" y2="258" stroke="#888" stroke-width="1.2" />
<line x1="388" y1="235.6" x2="450.4" y2="235.6" stroke="#666" stroke-width="1.2" />
<polygon points="388.00,235.60 394.50,233.70 394.50,237.50" fill="#333"/>
<polygon points="450.40,235.60 443.90,237.50 443.90,233.70" fill="#333"/>
<text transform="translate(397 232) scale(1.05 1)" text-anchor="start" fill="#3c3c3c" font-family="Liberation Sans"><tspan font-size="12">41</tspan><tspan font-size="10.4" dx="2.2">(1.61)</tspan></text>
<line x1="393.75" y1="421" x2="393.75" y2="460" stroke="#888" stroke-width="1.2" />
<line x1="450" y1="421" x2="450" y2="460" stroke="#888" stroke-width="1.2" />
<line x1="393.75" y1="457.5" x2="450" y2="457.5" stroke="#666" stroke-width="1.2" />
<polygon points="393.75,457.50 400.25,455.60 400.25,459.40" fill="#333"/>
<polygon points="450.00,457.50 443.50,459.40 443.50,455.60" fill="#333"/>
<text transform="translate(400 455) scale(1.05 1)" text-anchor="start" fill="#3c3c3c" font-family="Liberation Sans"><tspan font-size="12">38</tspan><tspan font-size="10.4" dx="2.2">(1.50)</tspan></text>
<circle cx="375.5" cy="458.75" r="7.2" stroke="#444" stroke-width="1.1" fill="white" />
<text transform="translate(375.5 463.35) scale(1 1)" font-size="12.8" text-anchor="middle" fill="#1a1a1a" font-weight="normal" font-family="Liberation Sans" stroke="#1a1a1a" stroke-width="0.45">7</text>
<path d="M375.5,451.5 L375.5,442.5 L397.5,436" stroke="#333" stroke-width="1" fill="none" stroke-linejoin="round" />
<g>
<polygon points="559,274 620,274 620,415.5 568,415.5 559,406.5" stroke="none" stroke-width="0" fill="#a6a6a6" stroke-linejoin="round" />
<line x1="560.50" y1="276" x2="560.50" y2="407.00" stroke="#fff" stroke-width="1.3"/>
<line x1="562.10" y1="276" x2="562.10" y2="407.00" stroke="#555" stroke-width="0.7"/>
<line x1="564.20" y1="276" x2="564.20" y2="410.70" stroke="#fff" stroke-width="1.3"/>
<line x1="565.80" y1="276" x2="565.80" y2="410.70" stroke="#555" stroke-width="0.7"/>
<line x1="567.90" y1="276" x2="567.90" y2="414.40" stroke="#fff" stroke-width="1.3"/>
<line x1="569.50" y1="276" x2="569.50" y2="414.40" stroke="#555" stroke-width="0.7"/>
<line x1="571.60" y1="276" x2="571.60" y2="414.50" stroke="#fff" stroke-width="1.3"/>
<line x1="573.20" y1="276" x2="573.20" y2="414.50" stroke="#555" stroke-width="0.7"/>
<line x1="575.30" y1="276" x2="575.30" y2="414.50" stroke="#fff" stroke-width="1.3"/>
<line x1="576.90" y1="276" x2="576.90" y2="414.50" stroke="#555" stroke-width="0.7"/>
<line x1="579.00" y1="276" x2="579.00" y2="414.50" stroke="#fff" stroke-width="1.3"/>
<line x1="580.60" y1="276" x2="580.60" y2="414.50" stroke="#555" stroke-width="0.7"/>
<line x1="582.70" y1="276" x2="582.70" y2="414.50" stroke="#fff" stroke-width="1.3"/>
<line x1="584.30" y1="276" x2="584.30" y2="414.50" stroke="#555" stroke-width="0.7"/>
<line x1="586.40" y1="276" x2="586.40" y2="414.50" stroke="#fff" stroke-width="1.3"/>
<line x1="588.00" y1="276" x2="588.00" y2="414.50" stroke="#555" stroke-width="0.7"/>
<line x1="590.10" y1="276" x2="590.10" y2="414.50" stroke="#fff" stroke-width="1.3"/>
<line x1="591.70" y1="276" x2="591.70" y2="414.50" stroke="#555" stroke-width="0.7"/>
<line x1="593.80" y1="276" x2="593.80" y2="414.50" stroke="#fff" stroke-width="1.3"/>
<line x1="595.40" y1="276" x2="595.40" y2="414.50" stroke="#555" stroke-width="0.7"/>
<line x1="597.50" y1="276" x2="597.50" y2="414.50" stroke="#fff" stroke-width="1.3"/>
<line x1="599.10" y1="276" x2="599.10" y2="414.50" stroke="#555" stroke-width="0.7"/>
<line x1="601.20" y1="276" x2="601.20" y2="414.50" stroke="#fff" stroke-width="1.3"/>
<line x1="602.80" y1="276" x2="602.80" y2="414.50" stroke="#555" stroke-width="0.7"/>
<line x1="604.90" y1="276" x2="604.90" y2="414.50" stroke="#fff" stroke-width="1.3"/>
<line x1="606.50" y1="276" x2="606.50" y2="414.50" stroke="#555" stroke-width="0.7"/>
<line x1="608.60" y1="276" x2="608.60" y2="414.50" stroke="#fff" stroke-width="1.3"/>
<line x1="610.20" y1="276" x2="610.20" y2="414.50" stroke="#555" stroke-width="0.7"/>
<line x1="612.30" y1="276" x2="612.30" y2="414.50" stroke="#fff" stroke-width="1.3"/>
<line x1="613.90" y1="276" x2="613.90" y2="414.50" stroke="#555" stroke-width="0.7"/>
<line x1="616.00" y1="276" x2="616.00" y2="414.50" stroke="#fff" stroke-width="1.3"/>
<line x1="617.60" y1="276" x2="617.60" y2="414.50" stroke="#555" stroke-width="0.7"/>
<line x1="619.70" y1="276" x2="619.70" y2="414.50" stroke="#fff" stroke-width="1.3"/>
<line x1="621.30" y1="276" x2="621.30" y2="414.50" stroke="#555" stroke-width="0.7"/>
</g>
<circle cx="584" cy="309.5" r="20.5" stroke="#666" stroke-width="0" fill="white" />
<path d="M565,298 A20.5 20.5 0 0 0 565,321" stroke="#666" stroke-width="1" fill="none" stroke-linejoin="round" />
<path d="M603,298 A20.5 20.5 0 0 1 603,321" stroke="#666" stroke-width="1" fill="none" stroke-linejoin="round" />
<rect x="546.9" y="274" width="13.6" height="13.8" rx="0" stroke="#666" stroke-width="0" fill="white" />
<path d="M560,274 L572,274 Q579,274 579,281 Q579,288 572,288 L560,288" fill="#a6a6a6" stroke="#222" stroke-width="1.6"/>
<line x1="562.5" y1="275" x2="562.5" y2="287" stroke="#fff" stroke-width="1.3" />
<line x1="566" y1="275" x2="566" y2="287" stroke="#fff" stroke-width="1.3" />
<line x1="569.5" y1="275" x2="569.5" y2="287" stroke="#fff" stroke-width="1.3" />
<line x1="573" y1="275" x2="573" y2="287" stroke="#fff" stroke-width="1.3" />
<rect x="583" y="274" width="12.6" height="11" rx="0" stroke="#666" stroke-width="0" fill="white" />
<circle cx="589.3" cy="279.4" r="5" stroke="#1e1e1e" stroke-width="1.8" fill="white" />
<circle cx="589.3" cy="279.4" r="2.5" stroke="#222" stroke-width="1.6" fill="none" />
<circle cx="584" cy="293.7" r="4.8" stroke="#1e1e1e" stroke-width="1.5" fill="white" />
<circle cx="584" cy="293.7" r="2.4" stroke="#444" stroke-width="1" fill="none" />
<circle cx="584" cy="324.3" r="4.8" stroke="#1e1e1e" stroke-width="1.5" fill="white" />
<circle cx="584" cy="324.3" r="2.4" stroke="#444" stroke-width="1" fill="none" />
<circle cx="589.4" cy="409.6" r="4.8" stroke="#1e1e1e" stroke-width="1.5" fill="white" />
<circle cx="589.4" cy="409.6" r="2.4" stroke="#444" stroke-width="1" fill="none" />
<rect x="620.5" y="274" width="13.5" height="141.5" rx="0" stroke="#666" stroke-width="0" fill="white" />
<line x1="620" y1="273" x2="620" y2="416" stroke="#333" stroke-width="1.2" />
<line x1="601" y1="318.3" x2="620" y2="318.3" stroke="#333" stroke-width="1.2" />
<line x1="620" y1="318.3" x2="635" y2="318.3" stroke="#1e1e1e" stroke-width="2" />
<rect x="605.7" y="339.3" width="9.5" height="14" rx="0" stroke="#666" stroke-width="0" fill="white" />
<path d="M606.5,415 L606.5,355 Q606.5,353 608.5,353 Q610.5,353 610.5,355 L610.5,415 M611,415 L611,355 Q611,353 613,353 Q615,353 615,355 L615,415" stroke="#333" stroke-width="0.9" fill="none" stroke-linejoin="round" />
<path d="M546,273 L635,273 L635,416.4 L567.5,416.4 L545.5,396 Z" stroke="#1e1e1e" stroke-width="2" fill="none" stroke-linejoin="round" />
<line x1="546" y1="288" x2="560" y2="288" stroke="#1e1e1e" stroke-width="1.5" />
<line x1="548.5" y1="274.5" x2="554.5" y2="283" stroke="#444" stroke-width="1" />
<path d="M621.2,272.5 L621.2,262 Q621.4,259.6 624,259 L634.5,255.8" stroke="#1e1e1e" stroke-width="1.6" fill="none" stroke-linejoin="round" />
<path d="M635,273 L635,255.8 L689.3,255.8 L689.3,386.9 L635,386.9" stroke="#1e1e1e" stroke-width="2" fill="none" stroke-linejoin="round" />
<path d="M637.4,258 L687.1,258 L687.1,384.7 L637.4,384.7 Z" stroke="#333" stroke-width="1.1" fill="none" stroke-linejoin="round" />
<path d="M639.2,259.8 L685.4,259.8 L685.4,383 L639.2,383 Z" fill="none" stroke="#777" stroke-width="1" stroke-dasharray="9 2.5"/>
<rect x="525.5" y="394" width="13.5" height="22" rx="1" stroke="#1e1e1e" stroke-width="1.3" fill="white" />
<rect x="539" y="394" width="6.5" height="22" rx="0" stroke="#333" stroke-width="1.1" fill="#d0d0d0" />
<rect x="522" y="398" width="3.5" height="16" rx="1.2" stroke="#1e1e1e" stroke-width="1.1" fill="#999" />
<rect x="547" y="417" width="20.5" height="5" rx="0" stroke="#333" stroke-width="1.1" fill="#d0d0d0" />
<rect x="546" y="422" width="22" height="15" rx="1.5" stroke="#1e1e1e" stroke-width="1.3" fill="white" />
<rect x="548" y="425" width="3.2" height="10" rx="0" stroke="#222" stroke-width="0.8" fill="#555" />
<rect x="560.5" y="425" width="5" height="10" rx="0" stroke="#222" stroke-width="0.8" fill="#555" />
<line x1="556" y1="422" x2="556" y2="437" stroke="#444" stroke-width="1.2" />
<rect x="549.5" y="437" width="15" height="3" rx="1" stroke="#222" stroke-width="0.9" fill="#444" />
<line x1="545.6" y1="172.7" x2="545.6" y2="270" stroke="#888" stroke-width="1.2" />
<line x1="638.2" y1="171.3" x2="638.2" y2="254" stroke="#888" stroke-width="1.2" />
<line x1="545.6" y1="174.8" x2="638.2" y2="174.8" stroke="#666" stroke-width="1.2" />
<polygon points="545.60,174.80 552.10,172.90 552.10,176.70" fill="#333"/>
<polygon points="638.20,174.80 631.70,176.70 631.70,172.90" fill="#333"/>
<text transform="translate(564.7 170.6) scale(1.05 1)" text-anchor="start" fill="#3c3c3c" font-family="Liberation Sans"><tspan font-size="12">61.2</tspan><tspan font-size="10.4" dx="2.2">(2.41)</tspan></text>
<line x1="636.1" y1="196" x2="636.1" y2="254" stroke="#888" stroke-width="1.2" />
<line x1="585.8" y1="199.8" x2="599.6" y2="199.8" stroke="#666" stroke-width="1.2" />
<polygon points="599.60,199.80 593.10,201.70 593.10,197.90" fill="#333"/>
<line x1="599.6" y1="199.8" x2="638" y2="199.8" stroke="#666" stroke-width="1.2" />
<line x1="638.2" y1="199.8" x2="648.5" y2="199.8" stroke="#666" stroke-width="1.2" />
<polygon points="638.20,199.80 644.70,197.90 644.70,201.70" fill="#333"/>
<text transform="translate(617 197) scale(1.05 1)" text-anchor="middle" fill="#3c3c3c" font-family="Liberation Sans"><tspan font-size="12">(24.1)</tspan></text>
<text transform="translate(617 210.8) scale(1.05 1)" text-anchor="middle" fill="#3c3c3c" font-family="Liberation Sans"><tspan font-size="10.4">(0.95)</tspan></text>
<line x1="599.6" y1="214.6" x2="599.6" y2="272" stroke="#888" stroke-width="1.2" />
<line x1="545.6" y1="224.5" x2="599.6" y2="224.5" stroke="#666" stroke-width="1.2" />
<polygon points="545.60,224.50 552.10,222.60 552.10,226.40" fill="#333"/>
<polygon points="599.60,224.50 593.10,226.40 593.10,222.60" fill="#333"/>
<text transform="translate(571.5 221.4) scale(1.05 1)" text-anchor="middle" fill="#3c3c3c" font-family="Liberation Sans"><tspan font-size="12">35.3</tspan></text>
<text transform="translate(571.5 235) scale(1.05 1)" text-anchor="middle" fill="#3c3c3c" font-family="Liberation Sans"><tspan font-size="10.4">(1.39)</tspan></text>
<line x1="531.9" y1="250" x2="591" y2="250" stroke="#666" stroke-width="1.2" />
<polygon points="545.60,250.00 539.10,251.90 539.10,248.10" fill="#333"/>
<polygon points="578.40,250.00 584.90,248.10 584.90,251.90" fill="#333"/>
<line x1="578.4" y1="245.7" x2="578.4" y2="272" stroke="#888" stroke-width="1.2" />
<text transform="translate(562 246.8) scale(1.05 1)" text-anchor="middle" fill="#3c3c3c" font-family="Liberation Sans"><tspan font-size="12">22</tspan></text>
<text transform="translate(562 260.5) scale(1.05 1)" text-anchor="middle" fill="#3c3c3c" font-family="Liberation Sans"><tspan font-size="10.4">(0.87)</tspan></text>
<line x1="685.2" y1="221" x2="685.2" y2="254" stroke="#888" stroke-width="1.2" />
<line x1="638.2" y1="225" x2="685.2" y2="225" stroke="#666" stroke-width="1.2" />
<polygon points="638.20,225.00 644.70,223.10 644.70,226.90" fill="#333"/>
<polygon points="685.20,225.00 678.70,226.90 678.70,223.10" fill="#333"/>
<text transform="translate(661.4 222) scale(1.05 1)" text-anchor="middle" fill="#3c3c3c" font-family="Liberation Sans"><tspan font-size="12">31.2</tspan></text>
<text transform="translate(661.4 235.3) scale(1.05 1)" text-anchor="middle" fill="#3c3c3c" font-family="Liberation Sans"><tspan font-size="10.4">(1.23)</tspan></text>
<circle cx="531.9" cy="212.9" r="7.2" stroke="#444" stroke-width="1.1" fill="white" />
<text transform="translate(531.9 217.5) scale(1 1)" font-size="12.8" text-anchor="middle" fill="#1a1a1a" font-weight="normal" font-family="Liberation Sans" stroke="#1a1a1a" stroke-width="0.45">4</text>
<path d="M531.9,220 L531.9,250.5 L546,273.5" stroke="#333" stroke-width="1" fill="none" stroke-linejoin="round" />
<line x1="477.4" y1="274.9" x2="542.5" y2="274.9" stroke="#888" stroke-width="1.2" />
<line x1="477.4" y1="287.8" x2="542.5" y2="287.8" stroke="#888" stroke-width="1.2" />
<line x1="480.4" y1="229" x2="480.4" y2="287.8" stroke="#666" stroke-width="1.2" />
<polygon points="480.40,274.90 478.50,268.40 482.30,268.40" fill="#333"/>
<line x1="480.4" y1="287.8" x2="480.4" y2="416.5" stroke="#666" stroke-width="1.2" />
<polygon points="480.40,287.80 482.30,294.30 478.50,294.30" fill="#333"/>
<polygon points="480.40,416.50 478.50,410.00 482.30,410.00" fill="#333"/>
<text transform="translate(475.8 249.3) rotate(-90) scale(1.05 1)" text-anchor="middle" fill="#3c3c3c" font-family="Liberation Sans"><tspan font-size="12">9</tspan><tspan font-size="10.4" dx="2.2">(0.35)</tspan></text>
<text transform="translate(475.8 353.5) rotate(-90) scale(1.05 1)" text-anchor="middle" fill="#3c3c3c" font-family="Liberation Sans"><tspan font-size="12">85</tspan><tspan font-size="10.4" dx="2.2">(3.35)</tspan></text>
<line x1="477" y1="416.5" x2="520" y2="416.5" stroke="#888" stroke-width="1.2" />
<line x1="494.5" y1="400" x2="494.5" y2="452" stroke="#666" stroke-width="1.2" />
<polygon points="494.50,416.50 492.60,410.00 496.40,410.00" fill="#333"/>
<polygon points="494.50,439.50 496.40,446.00 492.60,446.00" fill="#333"/>
<line x1="492" y1="439.5" x2="546" y2="439.5" stroke="#888" stroke-width="1.2" />
<text transform="translate(491.5 388) rotate(-90) scale(1.05 1)" text-anchor="middle" fill="#3c3c3c" font-family="Liberation Sans"><tspan font-size="12">15</tspan><tspan font-size="10.4" dx="2.2">(0.59)</tspan></text>
<line x1="509.6" y1="341" x2="509.6" y2="428.6" stroke="#666" stroke-width="1.2" />
<polygon points="509.60,394.50 507.70,388.00 511.50,388.00" fill="#333"/>
<polygon points="509.60,416.50 511.50,423.00 507.70,423.00" fill="#333"/>
<line x1="507.3" y1="394.5" x2="525.5" y2="394.5" stroke="#888" stroke-width="1.2" />
<text transform="translate(506.7 364) rotate(-90) scale(1.05 1)" text-anchor="middle" fill="#3c3c3c" font-family="Liberation Sans"><tspan font-size="12">15</tspan><tspan font-size="10.4" dx="2.2">(0.59)</tspan></text>
<line x1="521.8" y1="417" x2="521.8" y2="447" stroke="#888" stroke-width="1.2" />
<line x1="521.8" y1="463" x2="521.8" y2="486" stroke="#888" stroke-width="1.2" />
<line x1="545.3" y1="417" x2="545.3" y2="486" stroke="#888" stroke-width="1.2" />
<line x1="568.4" y1="440" x2="568.4" y2="465.4" stroke="#888" stroke-width="1.2" />
<line x1="496.5" y1="462.3" x2="581" y2="462.3" stroke="#666" stroke-width="1.2" />
<polygon points="545.30,462.30 538.80,464.20 538.80,460.40" fill="#333"/>
<polygon points="568.40,462.30 574.90,460.40 574.90,464.20" fill="#333"/>
<g>
<text transform="translate(496.8 459.6) scale(1.05 1)" text-anchor="start" fill="#3c3c3c" font-family="Liberation Sans"><tspan font-size="12">15</tspan></text>
<g transform="translate(513.5 0) scale(0.9 1) translate(-513.5 0)">
<text transform="translate(513.5 459.6) scale(1.05 1)" text-anchor="start" fill="#3c3c3c" font-family="Liberation Sans"><tspan font-size="10.4">(0.59)</tspan></text>
</g>
</g>
<line x1="509.7" y1="479.5" x2="597.7" y2="479.5" stroke="#666" stroke-width="1.2" />
<polygon points="521.80,479.50 515.30,481.40 515.30,477.60" fill="#333"/>
<polygon points="545.30,479.50 551.80,477.60 551.80,481.40" fill="#333"/>
<text transform="translate(552.8 476.3) scale(1.05 1)" text-anchor="start" fill="#3c3c3c" font-family="Liberation Sans"><tspan font-size="12">15</tspan><tspan font-size="10.4" dx="2.2">(0.59)</tspan></text>
<line x1="693.3" y1="259.2" x2="744" y2="259.2" stroke="#888" stroke-width="1.2" />
<line x1="640" y1="272" x2="719.5" y2="272" stroke="#888" stroke-width="1.2" />
<line x1="620" y1="318.5" x2="719.5" y2="318.5" stroke="#888" stroke-width="1.2" />
<line x1="692" y1="383.3" x2="745" y2="383.3" stroke="#888" stroke-width="1.2" />
<line x1="637" y1="416.4" x2="744.4" y2="416.4" stroke="#888" stroke-width="1.2" />
<line x1="717.3" y1="272" x2="717.3" y2="318.5" stroke="#666" stroke-width="1.2" />
<polygon points="717.30,272.00 719.20,278.50 715.40,278.50" fill="#333"/>
<polygon points="717.30,318.50 715.40,312.00 719.20,312.00" fill="#333"/>
<text transform="translate(713 295.3) rotate(-90) scale(1.05 1)" text-anchor="middle" fill="#3c3c3c" font-family="Liberation Sans"><tspan font-size="12">(30.6)</tspan></text>
<text transform="translate(728 295.3) rotate(-90) scale(1.05 1)" text-anchor="middle" fill="#3c3c3c" font-family="Liberation Sans"><tspan font-size="10.4">(1.20)</tspan></text>
<line x1="717.3" y1="318.5" x2="717.3" y2="416.4" stroke="#666" stroke-width="1.2" />
<polygon points="717.30,318.50 719.20,325.00 715.40,325.00" fill="#333"/>
<polygon points="717.30,416.40 715.40,409.90 719.20,409.90" fill="#333"/>
<text transform="translate(713 367.3) rotate(-90) scale(1.05 1)" text-anchor="middle" fill="#3c3c3c" font-family="Liberation Sans"><tspan font-size="12">65.4</tspan><tspan font-size="10.4" dx="2.2">(2.57)</tspan></text>
<line x1="742.1" y1="259.2" x2="742.1" y2="383.3" stroke="#666" stroke-width="1.2" />
<polygon points="742.10,259.20 744.00,265.70 740.20,265.70" fill="#333"/>
<polygon points="742.10,383.30 740.20,376.80 744.00,376.80" fill="#333"/>
<text transform="translate(738.5 320.6) rotate(-90) scale(1.05 1)" text-anchor="middle" fill="#3c3c3c" font-family="Liberation Sans"><tspan font-size="12">82.1</tspan><tspan font-size="10.4" dx="2.2">(3.23)</tspan></text>
<line x1="742" y1="383.3" x2="742" y2="416.4" stroke="#666" stroke-width="1.2" />
<polygon points="742.00,383.30 743.90,389.80 740.10,389.80" fill="#333"/>
<polygon points="742.00,416.40 740.10,409.90 743.90,409.90" fill="#333"/>
<text transform="translate(739 400.5) rotate(-90) scale(1.05 1)" text-anchor="middle" fill="#3c3c3c" font-family="Liberation Sans"><tspan font-size="12">22.4</tspan></text>
<text transform="translate(753.5 400.5) rotate(-90) scale(1.05 1)" text-anchor="middle" fill="#3c3c3c" font-family="Liberation Sans"><tspan font-size="10.4">(0.88)</tspan></text>
<circle cx="616.1" cy="459.8" r="7.2" stroke="#444" stroke-width="1.1" fill="white" />
<text transform="translate(616.1 464.40000000000003) scale(1 1)" font-size="12.8" text-anchor="middle" fill="#1a1a1a" font-weight="normal" font-family="Liberation Sans" stroke="#1a1a1a" stroke-width="0.45">6</text>
<circle cx="639.6" cy="459.8" r="7.2" stroke="#444" stroke-width="1.1" fill="white" />
<text transform="translate(639.6 464.40000000000003) scale(1 1)" font-size="12.8" text-anchor="middle" fill="#1a1a1a" font-weight="normal" font-family="Liberation Sans" stroke="#1a1a1a" stroke-width="0.45">5</text>
<circle cx="678" cy="459.8" r="7.2" stroke="#444" stroke-width="1.1" fill="white" />
<text transform="translate(678 464.40000000000003) scale(1 1)" font-size="12.8" text-anchor="middle" fill="#1a1a1a" font-weight="normal" font-family="Liberation Sans" stroke="#1a1a1a" stroke-width="0.45">3</text>
<path d="M614.4,452.5 Q610,400 605.3,351.7" stroke="#333" stroke-width="1" fill="none" stroke-linejoin="round" />
<line x1="638.2" y1="452.5" x2="623.3" y2="321" stroke="#333" stroke-width="1.2" />
<line x1="676.4" y1="452.5" x2="661.3" y2="321.3" stroke="#333" stroke-width="1.2" />
<path d="M96.3,532.3 L151.4,541.4" stroke="#1e1e1e" stroke-width="2" fill="none" stroke-linejoin="round" />
<path d="M96.3,532.3 Q101,567 112.2,594.8 L240.5,594.8" stroke="#1e1e1e" stroke-width="2" fill="none" stroke-linejoin="round" />
<line x1="107" y1="573.6" x2="163" y2="593.7" stroke="#1e1e1e" stroke-width="2.4" />
<path d="M150.3,542 Q155,568 163.5,593.5" stroke="#333" stroke-width="1.1" fill="none" stroke-linejoin="round" />
<path d="M153.8,545.6 Q159,570 165.5,593.7" stroke="#222" stroke-width="1.7" fill="none" stroke-linejoin="round" />
<line x1="150.8" y1="538.3" x2="150.8" y2="542" stroke="#1e1e1e" stroke-width="1.5" />
<rect x="123.9" y="591.2" width="9.5" height="3" rx="0" stroke="#1e1e1e" stroke-width="1" fill="#aaa" />
<rect x="191.6" y="591.2" width="9.5" height="3" rx="0" stroke="#1e1e1e" stroke-width="1" fill="#aaa" />
<path d="M151,538.3 L240.7,538.3 L240.7,594.8" stroke="#1e1e1e" stroke-width="2" fill="none" stroke-linejoin="round" />
<line x1="151.4" y1="540.4" x2="240.7" y2="593.7" stroke="#1e1e1e" stroke-width="2.4" />
<polygon points="165,539.5 227,539.5 227,582.9057174887893 165,547.1097533632287" stroke="none" stroke-width="0" fill="#a2a2a2" stroke-linejoin="round" />
<line x1="167.50" y1="540.50" x2="167.50" y2="547.05" stroke="#444" stroke-width="2.7" stroke-linecap="round"/>
<line x1="167.50" y1="541.50" x2="167.50" y2="546.05" stroke="#fff" stroke-width="1.6" stroke-linecap="round"/>
<line x1="171.90" y1="540.50" x2="171.90" y2="549.59" stroke="#444" stroke-width="2.7" stroke-linecap="round"/>
<line x1="171.90" y1="541.50" x2="171.90" y2="548.59" stroke="#fff" stroke-width="1.6" stroke-linecap="round"/>
<line x1="176.30" y1="540.50" x2="176.30" y2="552.13" stroke="#444" stroke-width="2.7" stroke-linecap="round"/>
<line x1="176.30" y1="541.50" x2="176.30" y2="551.13" stroke="#fff" stroke-width="1.6" stroke-linecap="round"/>
<line x1="180.70" y1="540.50" x2="180.70" y2="554.67" stroke="#444" stroke-width="2.7" stroke-linecap="round"/>
<line x1="180.70" y1="541.50" x2="180.70" y2="553.67" stroke="#fff" stroke-width="1.6" stroke-linecap="round"/>
<line x1="185.10" y1="540.50" x2="185.10" y2="557.21" stroke="#444" stroke-width="2.7" stroke-linecap="round"/>
<line x1="185.10" y1="541.50" x2="185.10" y2="556.21" stroke="#fff" stroke-width="1.6" stroke-linecap="round"/>
<line x1="189.50" y1="540.50" x2="189.50" y2="559.75" stroke="#444" stroke-width="2.7" stroke-linecap="round"/>
<line x1="189.50" y1="541.50" x2="189.50" y2="558.75" stroke="#fff" stroke-width="1.6" stroke-linecap="round"/>
<line x1="193.90" y1="540.50" x2="193.90" y2="562.30" stroke="#444" stroke-width="2.7" stroke-linecap="round"/>
<line x1="193.90" y1="541.50" x2="193.90" y2="561.30" stroke="#fff" stroke-width="1.6" stroke-linecap="round"/>
<line x1="198.30" y1="540.50" x2="198.30" y2="564.84" stroke="#444" stroke-width="2.7" stroke-linecap="round"/>
<line x1="198.30" y1="541.50" x2="198.30" y2="563.84" stroke="#fff" stroke-width="1.6" stroke-linecap="round"/>
<line x1="202.70" y1="540.50" x2="202.70" y2="567.38" stroke="#444" stroke-width="2.7" stroke-linecap="round"/>
<line x1="202.70" y1="541.50" x2="202.70" y2="566.38" stroke="#fff" stroke-width="1.6" stroke-linecap="round"/>
<line x1="207.10" y1="540.50" x2="207.10" y2="569.92" stroke="#444" stroke-width="2.7" stroke-linecap="round"/>
<line x1="207.10" y1="541.50" x2="207.10" y2="568.92" stroke="#fff" stroke-width="1.6" stroke-linecap="round"/>
<line x1="211.50" y1="540.50" x2="211.50" y2="572.46" stroke="#444" stroke-width="2.7" stroke-linecap="round"/>
<line x1="211.50" y1="541.50" x2="211.50" y2="571.46" stroke="#fff" stroke-width="1.6" stroke-linecap="round"/>
<line x1="215.90" y1="540.50" x2="215.90" y2="575.00" stroke="#444" stroke-width="2.7" stroke-linecap="round"/>
<line x1="215.90" y1="541.50" x2="215.90" y2="574.00" stroke="#fff" stroke-width="1.6" stroke-linecap="round"/>
<line x1="220.30" y1="540.50" x2="220.30" y2="577.54" stroke="#444" stroke-width="2.7" stroke-linecap="round"/>
<line x1="220.30" y1="541.50" x2="220.30" y2="576.54" stroke="#fff" stroke-width="1.6" stroke-linecap="round"/>
<line x1="224.70" y1="540.50" x2="224.70" y2="580.08" stroke="#444" stroke-width="2.7" stroke-linecap="round"/>
<line x1="224.70" y1="541.50" x2="224.70" y2="579.08" stroke="#fff" stroke-width="1.6" stroke-linecap="round"/>
<polygon points="165,550.6097533632287 227,586.4057174887893 227,593.5 165,593.5" stroke="none" stroke-width="0" fill="#a2a2a2" stroke-linejoin="round" />
<line x1="167.50" y1="553.55" x2="167.50" y2="593.00" stroke="#444" stroke-width="2.7" stroke-linecap="round"/>
<line x1="167.50" y1="554.55" x2="167.50" y2="592.00" stroke="#fff" stroke-width="1.6" stroke-linecap="round"/>
<line x1="171.90" y1="556.09" x2="171.90" y2="593.00" stroke="#444" stroke-width="2.7" stroke-linecap="round"/>
<line x1="171.90" y1="557.09" x2="171.90" y2="592.00" stroke="#fff" stroke-width="1.6" stroke-linecap="round"/>
<line x1="176.30" y1="558.63" x2="176.30" y2="593.00" stroke="#444" stroke-width="2.7" stroke-linecap="round"/>
<line x1="176.30" y1="559.63" x2="176.30" y2="592.00" stroke="#fff" stroke-width="1.6" stroke-linecap="round"/>
<line x1="180.70" y1="561.17" x2="180.70" y2="593.00" stroke="#444" stroke-width="2.7" stroke-linecap="round"/>
<line x1="180.70" y1="562.17" x2="180.70" y2="592.00" stroke="#fff" stroke-width="1.6" stroke-linecap="round"/>
<line x1="185.10" y1="563.71" x2="185.10" y2="593.00" stroke="#444" stroke-width="2.7" stroke-linecap="round"/>
<line x1="185.10" y1="564.71" x2="185.10" y2="592.00" stroke="#fff" stroke-width="1.6" stroke-linecap="round"/>
<line x1="189.50" y1="566.25" x2="189.50" y2="593.00" stroke="#444" stroke-width="2.7" stroke-linecap="round"/>
<line x1="189.50" y1="567.25" x2="189.50" y2="592.00" stroke="#fff" stroke-width="1.6" stroke-linecap="round"/>
<line x1="193.90" y1="568.80" x2="193.90" y2="593.00" stroke="#444" stroke-width="2.7" stroke-linecap="round"/>
<line x1="193.90" y1="569.80" x2="193.90" y2="592.00" stroke="#fff" stroke-width="1.6" stroke-linecap="round"/>
<line x1="198.30" y1="571.34" x2="198.30" y2="593.00" stroke="#444" stroke-width="2.7" stroke-linecap="round"/>
<line x1="198.30" y1="572.34" x2="198.30" y2="592.00" stroke="#fff" stroke-width="1.6" stroke-linecap="round"/>
<line x1="202.70" y1="573.88" x2="202.70" y2="593.00" stroke="#444" stroke-width="2.7" stroke-linecap="round"/>
<line x1="202.70" y1="574.88" x2="202.70" y2="592.00" stroke="#fff" stroke-width="1.6" stroke-linecap="round"/>
<line x1="207.10" y1="576.42" x2="207.10" y2="593.00" stroke="#444" stroke-width="2.7" stroke-linecap="round"/>
<line x1="207.10" y1="577.42" x2="207.10" y2="592.00" stroke="#fff" stroke-width="1.6" stroke-linecap="round"/>
<line x1="211.50" y1="578.96" x2="211.50" y2="593.00" stroke="#444" stroke-width="2.7" stroke-linecap="round"/>
<line x1="211.50" y1="579.96" x2="211.50" y2="592.00" stroke="#fff" stroke-width="1.6" stroke-linecap="round"/>
<line x1="215.90" y1="581.50" x2="215.90" y2="593.00" stroke="#444" stroke-width="2.7" stroke-linecap="round"/>
<line x1="215.90" y1="582.50" x2="215.90" y2="592.00" stroke="#fff" stroke-width="1.6" stroke-linecap="round"/>
<line x1="220.30" y1="584.04" x2="220.30" y2="593.00" stroke="#444" stroke-width="2.7" stroke-linecap="round"/>
<line x1="220.30" y1="585.04" x2="220.30" y2="592.00" stroke="#fff" stroke-width="1.6" stroke-linecap="round"/>
<line x1="224.70" y1="586.58" x2="224.70" y2="593.00" stroke="#444" stroke-width="2.7" stroke-linecap="round"/>
<line x1="224.70" y1="587.58" x2="224.70" y2="592.00" stroke="#fff" stroke-width="1.6" stroke-linecap="round"/>
<rect x="192" y="591" width="8.3" height="2.6" rx="0" stroke="#1e1e1e" stroke-width="1" fill="#aaa" />
<line x1="151.3" y1="540.7" x2="240.5" y2="592.2" stroke="#1e1e1e" stroke-width="2.4" />
<path d="M151,538.3 L240.5,538.3 L240.5,594.8" stroke="#1e1e1e" stroke-width="2" fill="none" stroke-linejoin="round" />
<circle cx="205.8" cy="545.9" r="5.0" stroke="#1e1e1e" stroke-width="1.5" fill="white" />
<circle cx="205.8" cy="545.9" r="3.0" stroke="#444" stroke-width="1" fill="none" />
<circle cx="205.8" cy="545.9" r="1" stroke="#666" stroke-width="0" fill="#555" />
<circle cx="205.8" cy="561.2" r="5.0" stroke="#1e1e1e" stroke-width="1.5" fill="white" />
<circle cx="205.8" cy="561.2" r="3.0" stroke="#444" stroke-width="1" fill="none" />
<circle cx="205.8" cy="561.2" r="1" stroke="#666" stroke-width="0" fill="#555" />
<line x1="205.8" y1="551" x2="205.8" y2="556.2" stroke="#222" stroke-width="2" />
<line x1="243" y1="538" x2="286.9" y2="538" stroke="#888" stroke-width="1.2" />
<line x1="211" y1="546.2" x2="305.2" y2="546.2" stroke="#888" stroke-width="1.2" />
<line x1="211" y1="561.3" x2="305.2" y2="561.3" stroke="#888" stroke-width="1.2" />
<line x1="206.4" y1="513.3" x2="206.4" y2="538" stroke="#888" stroke-width="1.2" />
<line x1="240.7" y1="513.3" x2="240.7" y2="538" stroke="#888" stroke-width="1.2" />
<line x1="193.7" y1="511.5" x2="253" y2="511.5" stroke="#666" stroke-width="1.2" />
<polygon points="206.40,511.50 199.90,513.40 199.90,509.60" fill="#333"/>
<polygon points="240.70,511.50 247.20,509.60 247.20,513.40" fill="#333"/>
<text transform="translate(223.6 508.6) scale(1.05 1)" text-anchor="middle" fill="#3c3c3c" font-family="Liberation Sans"><tspan font-size="12">22.5</tspan></text>
<text transform="translate(223.4 522.8) scale(1.05 1)" text-anchor="middle" fill="#3c3c3c" font-family="Liberation Sans"><tspan font-size="10.4">(0.89)</tspan></text>
<line x1="283.6" y1="504.7" x2="283.6" y2="559.6" stroke="#666" stroke-width="1.2" />
<polygon points="283.60,538.00 281.70,531.50 285.50,531.50" fill="#333"/>
<polygon points="283.60,546.40 285.50,552.90 281.70,552.90" fill="#333"/>
<text transform="translate(279.9 517.5) rotate(-90) scale(1.05 1)" text-anchor="middle" fill="#3c3c3c" font-family="Liberation Sans"><tspan font-size="12">5.7</tspan></text>
<text transform="translate(293.8 517.5) rotate(-90) scale(1.05 1)" text-anchor="middle" fill="#3c3c3c" font-family="Liberation Sans"><tspan font-size="10.4">(0.22)</tspan></text>
<line x1="302.4" y1="534" x2="302.4" y2="600" stroke="#666" stroke-width="1.2" />
<polygon points="302.40,546.40 300.50,539.90 304.30,539.90" fill="#333"/>
<polygon points="302.40,561.50 304.30,568.00 300.50,568.00" fill="#333"/>
<text transform="translate(299 583.5) rotate(-90) scale(1.05 1)" text-anchor="middle" fill="#3c3c3c" font-family="Liberation Sans"><tspan font-size="12">10</tspan></text>
<text transform="translate(312.8 583.5) rotate(-90) scale(1.05 1)" text-anchor="middle" fill="#3c3c3c" font-family="Liberation Sans"><tspan font-size="10.4">(0.39)</tspan></text>
<circle cx="170" cy="519.6" r="7.2" stroke="#444" stroke-width="1.1" fill="white" />
<text transform="translate(170 524.2) scale(1 1)" font-size="12.8" text-anchor="middle" fill="#1a1a1a" font-weight="normal" font-family="Liberation Sans" stroke="#1a1a1a" stroke-width="0.45">1</text>
<line x1="175.7" y1="526.4" x2="191.6" y2="537" stroke="#333" stroke-width="1.2" />
<line x1="175.7" y1="526.4" x2="203.2" y2="558.8" stroke="#333" stroke-width="1.2" />
</svg></body></html>
